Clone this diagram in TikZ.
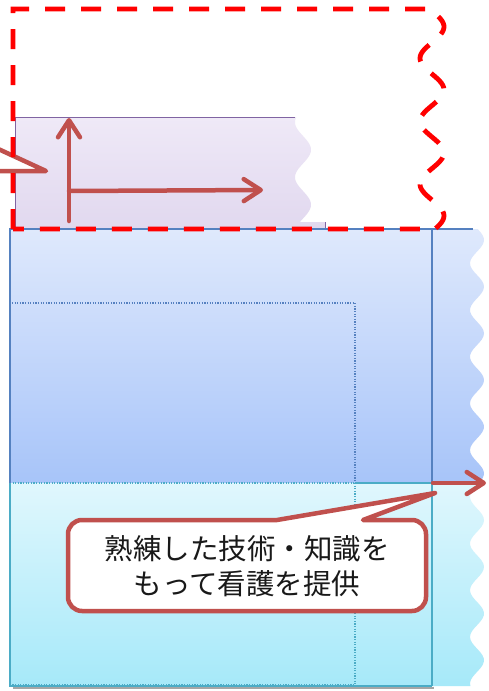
\documentclass[tikz,border=0pt]{standalone}
\usepackage{fontspec}
\newfontfamily\cjk{Noto Sans CJK JP}
\usetikzlibrary{arrows.meta}
\definecolor{pTop}{HTML}{EFE9F7}
\definecolor{pBot}{HTML}{E1D8EF}
\definecolor{pBorder}{HTML}{8064A2}
\definecolor{bTop}{HTML}{DFE9FC}
\definecolor{bBot}{HTML}{A7C4F9}
\definecolor{bBorder}{HTML}{5581C0}
\definecolor{cTop}{HTML}{E0F7FD}
\definecolor{cBot}{HTML}{A6E9F9}
\definecolor{cBorder}{HTML}{4BACC6}
\definecolor{cbrown}{HTML}{C0504D}
\begin{document}
\begin{tikzpicture}[x=1pt,y=-1pt,
  arr/.style={draw=cbrown, line width=4.5pt, line cap=round,
    -{Straight Barb[length=17pt,width=22pt,round]}},
  callout/.style={draw=cbrown, line width=4.5pt, fill=white, line join=round},
  dots/.style={line width=1.3pt, dash pattern=on 1.2pt off 1.4pt},
  reddash/.style={draw=red, line width=4.8pt, dash pattern=on 20pt off 16pt}]
\useasboundingbox (0,0) rectangle (489,691);
\fill[white] (0,0) rectangle (489,691);

% purple box
\shade[top color=pTop,bottom color=pBot] (15,117) -- (295,117)
  -- plot[domain=117:222,samples=60,variable=\t] ({303+8*sin(6.545*(\t-136))},\t)
  -- (325,222) -- (325,229) -- (15,229) -- cycle;
\draw[pBorder, line width=1pt] (15,229) -- (15,117) -- (295,117);
\draw[pBorder, line width=1pt] (325,222) -- (325,229);

% blue / cyan box
\begin{scope}
  \clip (10,229) -- (473,229)
    -- plot[domain=229:686,samples=150,variable=\t] ({477+7*sin(7.709*(\t-228.3))},\t)
    -- (10,686) -- cycle;
  \shade[top color=bTop,bottom color=bBot] (0,229) rectangle (489,483);
  \shade[top color=cTop,bottom color=cBot] (0,483) rectangle (489,686);
\end{scope}
\draw[black!35, line width=2pt] (13,688) -- (434,688);
\draw[bBorder, line width=1.2pt] (10,483) -- (10,229) -- (473,229);
\draw[cBorder, line width=1.2pt] (10,483) -- (10,686) -- (432,686);
\draw[bBorder, line width=1.6pt] (432,229) -- (432,483);
\draw[cBorder, line width=1.6pt] (432,483) -- (432,686);
\draw[cBorder, line width=1.3pt] (355,483) -- (432,483);
\draw[cBorder, dots] (10,483) -- (355,483);
\draw[bBorder, dots] (10,483) -- (10,303) -- (355,303) -- (355,483);
\draw[cBorder, dots] (355,483) -- (355,685) -- (10,685);

% left callout tail
\draw[callout] (-6,147) -- (46,171) -- (-6,171);

% arrows in purple box
\coordinate (v0) at (69,221);
\coordinate (v1) at (69,118);
\coordinate (h0) at (69,191);
\coordinate (h1) at (263,190);
\draw[arr] (v0) -- (v1);
\draw[arr] (h0) -- (h1);

% red dashed frame
\draw[reddash] (13,229) -- (13,9) -- (428,9)
  -- plot[domain=10:229,samples=100,variable=\t] ({432+12*sin(5.714*(\t-11))},\t)
  -- cycle;

% right arrow
\coordinate (r0) at (433,483);
\coordinate (r1) at (486,483);
\draw[arr] (r0) -- (r1);

% callout
\coordinate (tip) at (435,493);
\draw[callout, rounded corners=14pt] (150,520) [sharp corners] -- (277,520) -- (tip) -- (363,520) -- (380,520)
  [rounded corners=14pt] -- (426,520) -- (426,611) -- (68,611) -- (68,520) -- cycle;
\node[font=\cjk\fontsize{28.5}{35}\selectfont, align=center, text=black!90] (msg) at (247,566)
  {熟練した技術・知識を\\もって看護を提供};
\end{tikzpicture}
\end{document}
